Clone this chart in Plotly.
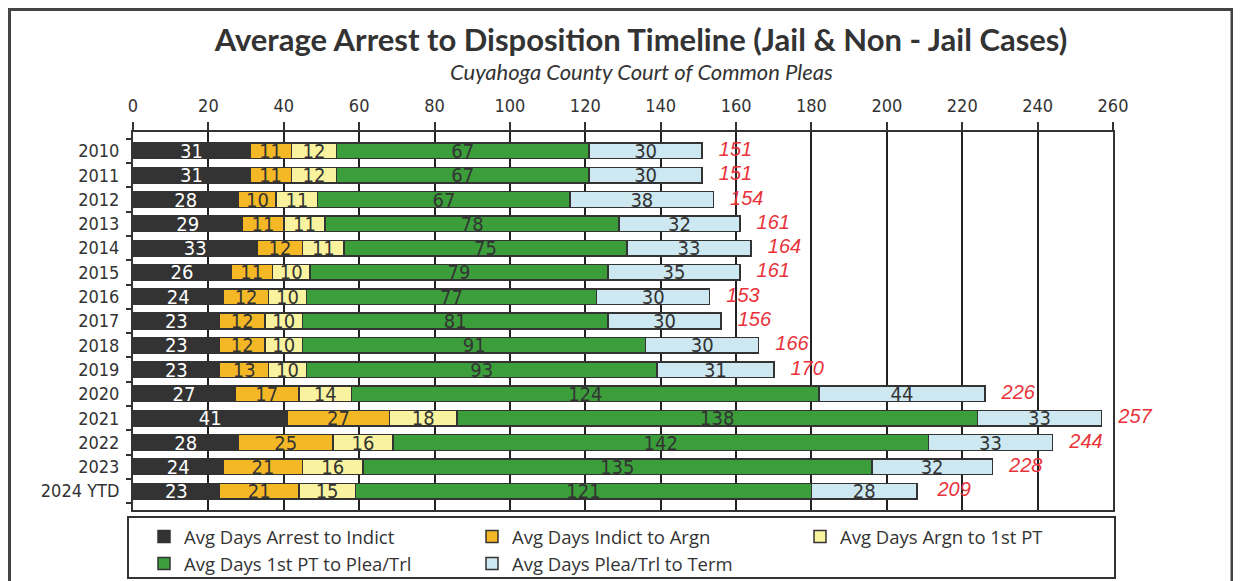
import plotly.graph_objects as go

years = ["2010", "2011", "2012", "2013", "2014", "2015", "2016", "2017",
         "2018", "2019", "2020", "2021", "2022", "2023", "2024 YTD"]
arrest_to_indict = [31, 31, 28, 29, 33, 26, 24, 23, 23, 23, 27, 41, 28, 24, 23]
indict_to_argn = [11, 11, 10, 11, 12, 11, 12, 12, 12, 13, 17, 27, 25, 21, 21]
argn_to_1st_pt = [12, 12, 11, 11, 11, 10, 10, 10, 10, 10, 14, 18, 16, 16, 15]
pt_to_plea = [67, 67, 67, 78, 75, 79, 77, 81, 91, 93, 124, 138, 142, 135, 121]
plea_to_term = [30, 30, 38, 32, 33, 35, 30, 30, 30, 31, 44, 33, 33, 32, 28]
totals = [151, 151, 154, 161, 164, 161, 153, 156, 166, 170, 226, 257, 244, 228, 209]
x_ticks = list(range(0, 261, 20))

series = [
    ("Avg Days Arrest to Indict", arrest_to_indict, "#333333", "white"),
    ("Avg Days Indict to Argn", indict_to_argn, "#f4b827", "#333333"),
    ("Avg Days Argn to 1st PT", argn_to_1st_pt, "#f9f3a0", "#333333"),
    ("Avg Days 1st PT to Plea/Trl", pt_to_plea, "#3b9e3b", "#333333"),
    ("Avg Days Plea/Trl to Term", plea_to_term, "#cde8f1", "#333333"),
]

NARROW = "Liberation Sans Narrow, Arial Narrow, DejaVu Sans Condensed, Liberation Sans"

# page has an 8px body margin, so the figure is laid out 8px smaller
W, H = 1233, 573
L, T, PW, PH = 125, 124, 980, 378


def px(x):
    return (x - L) / PW


def py(y):
    return (T + PH - y) / PH


fig = go.Figure()
for name, vals, color, tcolor in series:
    fig.add_trace(go.Bar(
        y=years, x=vals, name=name, orientation="h",
        marker=dict(color=color, line=dict(color="#333333", width=1.5)),
        text=vals, textposition="inside", insidetextanchor="middle",
        textangle=0, constraintext="none",
        textfont=dict(family=NARROW, size=20, color=tcolor),
    ))

# red totals to the right of each bar
fig.add_trace(go.Scatter(
    x=totals, y=years, mode="text", showlegend=False, hoverinfo="skip",
    text=["\u00a0\u00a0\u00a0" + str(t) for t in totals],
    textposition="middle right", cliponaxis=False,
    textfont=dict(family="Liberation Sans, Arial, sans-serif", size=20,
                  color="#e8333a", style="italic"),
))

fig.add_annotation(text="Cuyahoga County Court of Common Pleas", xref="paper", yref="paper",
                   x=px(633), y=py(64), yanchor="middle", showarrow=False,
                   font=dict(family="Lato, sans-serif", size=22, color="#333333",
                             style="italic"))

# outer frame and legend box
fig.add_shape(type="rect", xref="paper", yref="paper",
              x0=px(1.5), x1=px(1224), y0=py(620), y1=py(1.5),
              line=dict(color="#444444", width=3), layer="below")
fig.add_shape(type="rect", xref="paper", yref="paper",
              x0=px(120), x1=px(1107), y0=py(570), y1=py(509),
              line=dict(color="#333333", width=2), layer="below")

fig.update_layout(
    width=W, height=H,
    barmode="stack", bargap=0.36,
    plot_bgcolor="white", paper_bgcolor="white",
    margin=dict(l=L, r=W - L - PW, t=T, b=H - T - PH, autoexpand=False),
    title=dict(text="<b>Average Arrest to Disposition Timeline (Jail & Non - Jail Cases)</b>",
               x=633 / W, xanchor="center", y=1 - 32 / H, yanchor="middle",
               font=dict(family="Lato, sans-serif", size=31, color="#333333")),
    uniformtext=dict(minsize=20, mode="show"),
    showlegend=True,
    legend=dict(orientation="h", x=px(120), xanchor="left",
                y=py(510), yanchor="top", entrywidth=267,
                indentation=16, traceorder="normal",
                bgcolor="rgba(0,0,0,0)", borderwidth=0,
                font=dict(family="Open Sans, sans-serif", size=18.5, color="#333333")),
    xaxis=dict(range=[0, 260], side="top", tickvals=x_ticks, automargin=False,
               showgrid=True, gridcolor="#222222", gridwidth=2,
               showline=True, linecolor="#333333", linewidth=2, mirror=True,
               ticks="outside", ticklen=8, tickcolor="#333333", tickwidth=2,
               ticklabelstandoff=3, zeroline=False,
               tickfont=dict(family=NARROW, size=18, color="#333333")),
    yaxis=dict(type="category", autorange="reversed", automargin=False,
               tickmode="array", tickvals=years, ticktext=years,
               showline=True, linecolor="#333333",
               linewidth=2, mirror=True, ticks="outside", tickson="boundaries",
               ticklen=5, tickcolor="#333333", tickwidth=2, ticklabelstandoff=8,
               tickfont=dict(family=NARROW, size=18, color="#333333")),
)

fig.write_html("out.html")
